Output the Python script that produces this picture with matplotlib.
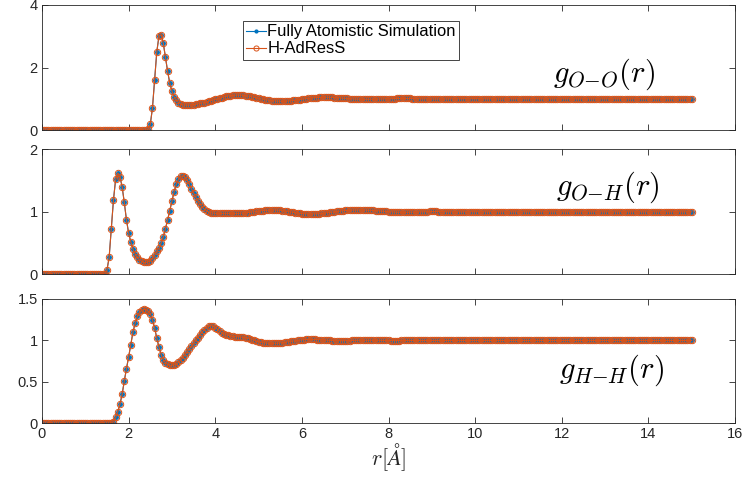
import numpy as np
import matplotlib
matplotlib.use("Agg")
import matplotlib.pyplot as plt

# Radial distribution functions of water, sampled every 0.05 Angstrom from 0 to 15
r_step = 0.05
r = np.round(np.arange(0, 301) * r_step, 2)

g_oo_atomistic = [
    0, 0, 0, 0, 0, 0, 0, 0, 0, 0, 0, 0, 0, 0, 0, 0, 0, 0, 0, 0,
    0, 0, 0, 0, 0, 0, 0, 0, 0, 0, 0, 0, 0, 0, 0, 0, 0, 0, 0, 0,
    0, 0, 0, 0, 0, 0, 0, 0, 0, 0.02, 0.18, 0.70, 1.60, 2.50, 3.00, 3.05, 2.78, 2.33, 1.88, 1.50,
    1.24, 1.06, 0.95, 0.88, 0.83, 0.805, 0.80, 0.80, 0.80, 0.805, 0.81, 0.82, 0.835, 0.85, 0.865, 0.88, 0.90, 0.92, 0.94, 0.96,
    0.98, 1.00, 1.02, 1.04, 1.06, 1.075, 1.09, 1.10, 1.11, 1.115, 1.12, 1.12, 1.115, 1.11, 1.10, 1.09, 1.075, 1.06, 1.045, 1.03,
    1.015, 1.0, 0.985, 0.97, 0.96, 0.95, 0.94, 0.935, 0.93, 0.925, 0.92, 0.92, 0.92, 0.925, 0.93, 0.935, 0.945, 0.955, 0.965, 0.975,
    0.985, 0.995, 1.005, 1.015, 1.02, 1.03, 1.035, 1.04, 1.045, 1.045, 1.05, 1.05, 1.05, 1.045, 1.045, 1.04, 1.035, 1.03, 1.025, 1.02,
    1.015, 1.01, 1.005, 1.0, 0.995, 0.99, 0.99, 0.985, 0.985, 0.985, 0.985, 0.985, 0.985, 0.99, 0.99, 0.99, 0.995, 0.995, 1.0, 1.0,
    1.0, 1.005, 1.005, 1.005, 1.01, 1.01, 1.01, 1.01, 1.01, 1.01, 1.01, 1.005, 1.005, 1.005, 1.0, 1.0, 1.0, 1.0, 0.995, 0.995,
    0.995, 0.995, 0.995, 0.995, 0.995, 0.995, 0.995, 0.995, 1.0, 1.0, 1.0, 1.0, 1.0, 1.0, 1.005, 1.005, 1.005, 1.005, 1.005, 1.005,
    1.005, 1.005, 1.0, 1.0, 1.0, 1.0, 1.0, 1.0, 1.0, 0.995, 0.995, 0.995, 0.995, 0.995, 0.995, 1.0, 1.0, 1.0, 1.0, 1.0,
    1.0, 1.0, 1.0, 1.002, 1.002, 1.002, 1.002, 1.002, 1.002, 1.0, 1.0, 1.0, 1.0, 0.998, 0.998, 0.998, 0.998, 0.998, 1.0, 1.0,
    1.0, 1.0, 1.0, 1.0, 1.0, 1.002, 1.002, 1.002, 1.0, 1.0, 1.0, 1.0, 1.0, 0.998, 0.998, 0.998, 1.0, 1.0, 1.0, 1.0,
    1.0, 1.0, 1.0, 1.0, 1.0, 1.0, 1.0, 1.0, 1.0, 1.0, 1.0, 1.0, 1.0, 1.0, 1.0, 1.0, 1.0, 1.0, 1.0, 1.0,
    1.0, 1.0, 1.0, 1.0, 1.0, 1.0, 1.0, 1.0, 1.0, 1.0, 1.0, 1.0, 1.0, 1.0, 1.0, 1.0, 1.0, 1.0, 1.0, 1.0,
    1.0,
]

g_oh_atomistic = [
    0, 0, 0, 0, 0, 0, 0, 0, 0, 0, 0, 0, 0, 0, 0, 0, 0, 0, 0, 0,
    0, 0, 0, 0, 0, 0, 0, 0, 0, 0.01, 0.07, 0.27, 0.72, 1.19, 1.52, 1.62, 1.56, 1.40, 1.15, 0.87,
    0.66, 0.52, 0.40, 0.325, 0.27, 0.23, 0.205, 0.19, 0.19, 0.20, 0.22, 0.26, 0.31, 0.37, 0.42, 0.50, 0.60, 0.73, 0.87, 1.02,
    1.17, 1.32, 1.44, 1.52, 1.565, 1.575, 1.555, 1.51, 1.44, 1.37, 1.30, 1.23, 1.17, 1.12, 1.075, 1.04, 1.015, 0.995, 0.985, 0.98,
    0.975, 0.975, 0.975, 0.975, 0.975, 0.975, 0.975, 0.975, 0.975, 0.975, 0.975, 0.977, 0.978, 0.98, 0.983, 0.987, 0.99, 0.995, 1.0, 1.005,
    1.01, 1.015, 1.02, 1.023, 1.026, 1.028, 1.03, 1.03, 1.03, 1.028, 1.025, 1.02, 1.015, 1.01, 1.003, 0.997, 0.99, 0.985, 0.98, 0.975,
    0.972, 0.97, 0.968, 0.967, 0.966, 0.966, 0.967, 0.968, 0.97, 0.973, 0.977, 0.981, 0.985, 0.99, 0.995, 1.0, 1.005, 1.01, 1.014, 1.018,
    1.021, 1.024, 1.026, 1.028, 1.029, 1.03, 1.03, 1.03, 1.03, 1.029, 1.028, 1.026, 1.024, 1.022, 1.02, 1.017, 1.014, 1.011, 1.008, 1.005,
    1.003, 1.0, 0.998, 0.996, 0.995, 0.994, 0.993, 0.993, 0.993, 0.994, 0.995, 0.996, 0.997, 0.998, 1.0, 1.001, 1.002, 1.003, 1.004, 1.005,
    1.005, 1.005, 1.005, 1.004, 1.003, 1.002, 1.001, 1.0, 0.999, 0.998, 0.998, 0.998, 0.998, 0.998, 0.999, 1.0, 1.0, 1.001, 1.002, 1.002,
    1.002, 1.002, 1.002, 1.001, 1.0, 1.0, 1.0, 0.999, 0.999, 0.999, 0.999, 1.0, 1.0, 1.0, 1.001, 1.001, 1.001, 1.001, 1.0, 1.0,
    1.0, 1.0, 1.0, 1.0, 1.0, 1.0, 1.0, 1.0, 1.0, 1.0, 1.0, 1.0, 1.0, 1.0, 1.0, 1.0, 1.0, 1.0, 1.0, 1.0,
    1.0, 1.0, 1.0, 1.0, 1.0, 1.0, 1.0, 1.0, 1.0, 1.0, 1.0, 1.0, 1.0, 1.0, 1.0, 1.0, 1.0, 1.0, 1.0, 1.0,
    1.0, 1.0, 1.0, 1.0, 1.0, 1.0, 1.0, 1.0, 1.0, 1.0, 1.0, 1.0, 1.0, 1.0, 1.0, 1.0, 1.0, 1.0, 1.0, 1.0,
    1.0, 1.0, 1.0, 1.0, 1.0, 1.0, 1.0, 1.0, 1.0, 1.0, 1.0, 1.0, 1.0, 1.0, 1.0, 1.0, 1.0, 1.0, 1.0, 1.0,
    1.0,
]

g_hh_atomistic = [
    0, 0, 0, 0, 0, 0, 0, 0, 0, 0, 0, 0, 0, 0, 0, 0, 0, 0, 0, 0,
    0, 0, 0, 0, 0, 0, 0, 0, 0, 0, 0, 0, 0.005, 0.02, 0.07, 0.14, 0.23, 0.35, 0.51, 0.66,
    0.80, 0.95, 1.10, 1.205, 1.29, 1.34, 1.365, 1.375, 1.37, 1.355, 1.32, 1.25, 1.15, 1.03, 0.92, 0.83, 0.765, 0.73, 0.71, 0.70,
    0.70, 0.705, 0.715, 0.735, 0.76, 0.79, 0.825, 0.86, 0.895, 0.93, 0.965, 1.0, 1.035, 1.07, 1.10, 1.13, 1.155, 1.175, 1.18, 1.17,
    1.155, 1.135, 1.11, 1.095, 1.08, 1.07, 1.06, 1.055, 1.05, 1.045, 1.045, 1.045, 1.04, 1.04, 1.035, 1.03, 1.02, 1.01, 1.0, 0.99,
    0.985, 0.98, 0.975, 0.97, 0.968, 0.966, 0.965, 0.965, 0.966, 0.968, 0.97, 0.973, 0.977, 0.981, 0.985, 0.99, 0.994, 0.998, 1.002, 1.005,
    1.008, 1.01, 1.012, 1.013, 1.013, 1.013, 1.012, 1.011, 1.01, 1.008, 1.006, 1.004, 1.002, 1.0, 0.999, 0.998, 0.997, 0.997, 0.997, 0.997,
    0.998, 0.998, 0.999, 1.0, 1.0, 1.001, 1.002, 1.003, 1.003, 1.004, 1.004, 1.004, 1.004, 1.003, 1.003, 1.002, 1.002, 1.001, 1.0, 1.0,
    1.0, 0.999, 0.999, 0.999, 0.999, 0.999, 1.0, 1.0, 1.0, 1.0, 1.001, 1.001, 1.001, 1.001, 1.001, 1.0, 1.0, 1.0, 1.0, 1.0,
    1.0, 1.0, 1.0, 1.0, 1.0, 1.0, 1.0, 1.0, 1.0, 1.0, 1.0, 1.0, 1.0, 1.0, 1.0, 1.0, 1.0, 1.0, 1.0, 1.0,
    1.0, 1.0, 1.0, 1.0, 1.0, 1.0, 1.0, 1.0, 1.0, 1.0, 1.0, 1.0, 1.0, 1.0, 1.0, 1.0, 1.0, 1.0, 1.0, 1.0,
    1.0, 1.0, 1.0, 1.0, 1.0, 1.0, 1.0, 1.0, 1.0, 1.0, 1.0, 1.0, 1.0, 1.0, 1.0, 1.0, 1.0, 1.0, 1.0, 1.0,
    1.0, 1.0, 1.0, 1.0, 1.0, 1.0, 1.0, 1.0, 1.0, 1.0, 1.0, 1.0, 1.0, 1.0, 1.0, 1.0, 1.0, 1.0, 1.0, 1.0,
    1.0, 1.0, 1.0, 1.0, 1.0, 1.0, 1.0, 1.0, 1.0, 1.0, 1.0, 1.0, 1.0, 1.0, 1.0, 1.0, 1.0, 1.0, 1.0, 1.0,
    1.0, 1.0, 1.0, 1.0, 1.0, 1.0, 1.0, 1.0, 1.0, 1.0, 1.0, 1.0, 1.0, 1.0, 1.0, 1.0, 1.0, 1.0, 1.0, 1.0,
    1.0,
]

# The adaptive-resolution run reproduces the atomistic curves at plotting resolution
g_oo_adress = list(g_oo_atomistic)
g_oh_adress = list(g_oh_atomistic)
g_hh_adress = list(g_hh_atomistic)

panel_labels = [r"$g_{O{-}O}(r)$", r"$g_{O{-}H}(r)$", r"$g_{H{-}H}(r)$"]
panel_ylims = [(0, 4), (0, 2), (0, 1.5)]
panel_yticks = [[0, 2, 4], [0, 1, 2], [0, 0.5, 1, 1.5]]
panel_yticklabels = [["0", "2", "4"], ["0", "1", "2"], ["0", "0.5", "1", "1.5"]]
label_pos = [(11.8, 1.78), (11.86, 1.40), (11.94, 0.64)]
x_ticks = [0, 2, 4, 6, 8, 10, 12, 14, 16]
series_names = ["Fully Atomistic Simulation", "H-AdResS"]

blue = "#0072BD"
orange = "#D95319"
ink = "#262626"

plt.rcParams["font.family"] = ["Liberation Sans", "DejaVu Sans"]
plt.rcParams["mathtext.fontset"] = "cm"

W, H = 747, 478
fig = plt.figure(figsize=(W / 100, H / 100), dpi=100)

left = 42 / W
width = (735 - 42) / W
tops = [5, 149.3, 299]
bottoms = [130, 274.3, 423.3]

atomistic = [g_oo_atomistic, g_oh_atomistic, g_hh_atomistic]
adress = [g_oo_adress, g_oh_adress, g_hh_adress]

axes = []
for k in range(3):
    ax = fig.add_axes([left, 1 - bottoms[k] / H, width, (bottoms[k] - tops[k]) / H])
    ax.plot(r, atomistic[k], color=blue, lw=0.8, marker=".", ms=5,
            label=series_names[0])
    ax.plot(r, adress[k], color=orange, lw=0.8, marker="o", ms=4.6,
            mfc="none", mec=orange, mew=0.7, label=series_names[1])
    ax.set_xlim(0, 16)
    ax.set_ylim(*panel_ylims[k])
    ax.set_xticks(x_ticks)
    ax.set_yticks(panel_yticks[k])
    ax.set_yticklabels(panel_yticklabels[k])
    if k < 2:
        ax.set_xticklabels([])
    ax.tick_params(direction="in", length=4, width=0.6, colors=ink,
                   labelsize=10.5, top=True, right=True, pad=3)
    for s in ax.spines.values():
        s.set_color(ink)
        s.set_linewidth(0.6)
    ax.text(label_pos[k][0], label_pos[k][1], panel_labels[k], fontsize=22,
            va="center", ha="left", color="black")
    axes.append(ax)

axes[2].set_xlabel(r"$r[\AA]$", fontsize=16, labelpad=0, color=ink)

leg = axes[0].legend(loc="upper left", bbox_to_anchor=(242.7 / W, 1 - 21 / H),
                     bbox_transform=fig.transFigure, borderaxespad=0,
                     fontsize=11.9, handlelength=1.2, handletextpad=0.08,
                     borderpad=0.2, labelspacing=0.12, fancybox=False,
                     framealpha=1, edgecolor=ink, markerscale=0.8)
leg.get_frame().set_linewidth(0.6)

fig.savefig("out.png", dpi=100)
